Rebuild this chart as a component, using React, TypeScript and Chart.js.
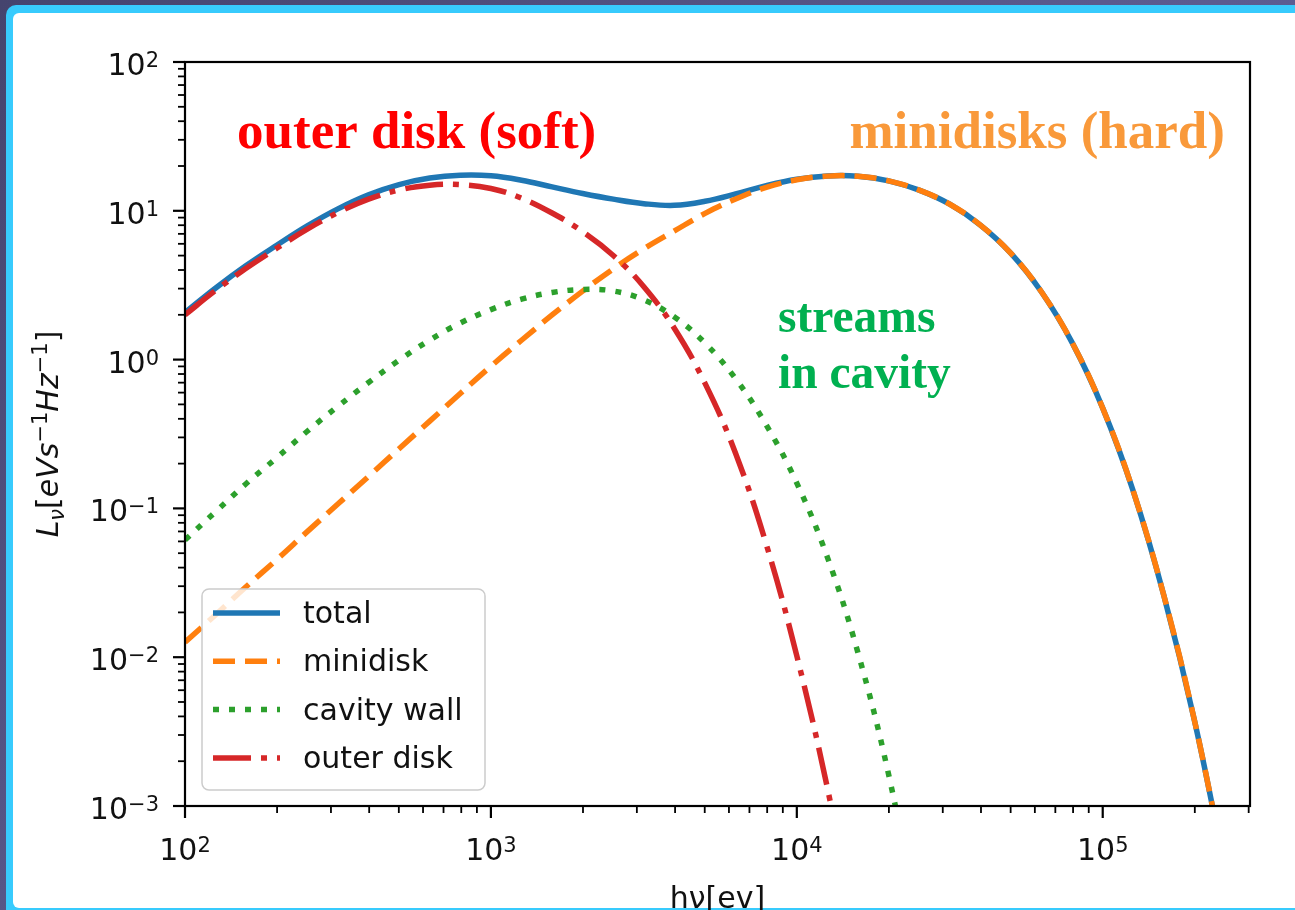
import React, { useEffect, useRef } from "react";
import { Chart, registerables } from "chart.js";
Chart.register(...registerables);

// ---- data ----
const photonEnergyEv = [
  100, 126, 158, 200, 251, 316, 398, 501, 631, 794,
  1000, 1259, 1585, 1995, 2512, 3162, 3981, 5012, 6310, 7943,
  10000, 12589, 15849, 19953, 25119, 31623, 39811, 50119, 63096, 79433,
  100000, 125893, 158489, 199526, 251189,
];
const totalLum = [
  2.07, 3.03, 4.27, 5.89, 7.92, 10.3, 12.8, 15.0, 16.6, 17.35,
  17.2, 16.06, 14.48, 13.08, 11.98, 11.17, 10.88, 11.58, 12.98, 14.77,
  16.31, 17.15, 17.06, 15.9, 13.77, 11.07, 8.017, 5.176, 2.844, 1.3,
  0.472, 0.13, 0.0259, 0.00375, 0.000375,
];
const minidiskLum = [
  0.0126, 0.0193, 0.0296, 0.0455, 0.0698, 0.107, 0.164, 0.252, 0.386, 0.592,
  0.902, 1.349, 1.995, 2.884, 4.074, 5.559, 7.328, 9.6, 12.0, 14.35,
  16.15, 17.1, 17.05, 15.9, 13.77, 11.07, 8.017, 5.176, 2.844, 1.3,
  0.472, 0.13, 0.0259, 0.00375, 0.000375,
];
const cavityWallLum = [
  0.0614, 0.0951, 0.146, 0.22, 0.33, 0.485, 0.701, 0.991, 1.352, 1.762,
  2.168, 2.547, 2.825, 2.958, 2.891, 2.518, 1.932, 1.291, 0.743, 0.364,
  0.148, 0.0469, 0.0107, 0.00163, 0.000151, null, null, null, null, null,
  null, null, null, null, null,
];
const outerDiskLum = [
  2.0, 2.92, 4.09, 5.62, 7.52, 9.73, 11.97, 13.8, 14.86, 15.0,
  14.13, 12.16, 9.66, 7.24, 5.01, 3.09, 1.62, 0.692, 0.234, 0.0575,
  0.0102, 0.00132, 0.000117, null, null, null, null, null, null, null,
  null, null, null, null, null,
];
const seriesLabels = ["total", "minidisk", "cavity wall", "outer disk"];
const xDecadeExponents = [2, 3, 4, 5];
const yDecadeExponents = [-3, -2, -1, 0, 1, 2];
const minorMultipliers = [2, 3, 4, 5, 6, 7, 8, 9];

const X_MIN = 100;
const X_MAX = 3.03e5;
const Y_MIN = 1e-3;
const Y_MAX = 100;

// ---- styles ----
const SANS = '"DejaVu Sans", sans-serif';
const SERIF = '"Liberation Serif", "Times New Roman", serif';
const TICK_FONT = 30;
const LEGEND_FONT = 30;
const LINE_W = 5.5;

const seriesStyles = [
  { color: "#1f77b4", dash: [] as number[], order: 3 },
  { color: "#ff7f0e", dash: [22, 10], order: 2 },
  { color: "#2ca02c", dash: [6, 10], order: 1 },
  { color: "#d62728", dash: [38, 10, 6, 10], order: 0 },
];
const seriesValues = [totalLum, minidiskLum, cavityWallLum, outerDiskLum];

type Part = { t: string; size: number; italic?: boolean; dy?: number; family?: string; bold?: boolean };

function setFont(ctx: CanvasRenderingContext2D, p: Part) {
  ctx.font = `${p.italic ? "italic " : ""}${p.bold ? "bold " : ""}${p.size}px ${p.family || SANS}`;
}
function drawRich(ctx: CanvasRenderingContext2D, parts: Part[], x: number, y: number, align: "left" | "center" | "right") {
  const widths = parts.map((p) => {
    setFont(ctx, p);
    return ctx.measureText(p.t).width;
  });
  const total = widths.reduce((a, b) => a + b, 0);
  let cx = align === "left" ? x : align === "center" ? x - total / 2 : x - total;
  ctx.textAlign = "left";
  ctx.textBaseline = "alphabetic";
  parts.forEach((p, i) => {
    setFont(ctx, p);
    ctx.fillText(p.t, cx, y + (p.dy || 0));
    cx += widths[i];
  });
}
function powerLabel(exp: number): Part[] {
  return [
    { t: "10", size: TICK_FONT },
    { t: String(exp).replace("-", "\u2212"), size: Math.round(TICK_FONT * 0.7), dy: -TICK_FONT * 0.27 },
  ];
}

const decorPlugin = {
  id: "decor",
  afterDatasetsDraw(chart: any) {
    const { ctx, chartArea: a } = chart;
    const xs = chart.scales.x;
    const ys = chart.scales.y;
    ctx.save();
    ctx.strokeStyle = "#000";
    ctx.fillStyle = "#111";
    ctx.setLineDash([]);

    // x ticks
    xDecadeExponents.forEach((e) => {
      [1, ...minorMultipliers].forEach((m) => {
        const v = m * Math.pow(10, e);
        if (v < X_MIN - 1e-9 || v > X_MAX) return;
        const px = xs.getPixelForValue(v);
        ctx.lineWidth = m === 1 ? 2.2 : 1.8;
        ctx.beginPath();
        ctx.moveTo(px, a.bottom);
        ctx.lineTo(px, a.bottom + (m === 1 ? 12 : 7));
        ctx.stroke();
      });
    });
    // y ticks
    yDecadeExponents.forEach((e) => {
      [1, ...minorMultipliers].forEach((m) => {
        const v = m * Math.pow(10, e);
        if (v < Y_MIN * 0.999 || v > Y_MAX * 1.001) return;
        const py = ys.getPixelForValue(v);
        ctx.lineWidth = m === 1 ? 2.2 : 1.8;
        ctx.beginPath();
        ctx.moveTo(a.left, py);
        ctx.lineTo(a.left - (m === 1 ? 12 : 7), py);
        ctx.stroke();
      });
    });
    // frame
    ctx.lineWidth = 2.2;
    ctx.strokeRect(a.left, a.top, a.right - a.left, a.bottom - a.top);

    // tick labels
    xDecadeExponents.forEach((e) => {
      const px = xs.getPixelForValue(Math.pow(10, e));
      drawRich(ctx, powerLabel(e), px, a.bottom + 54, "center");
    });
    yDecadeExponents.forEach((e) => {
      const py = ys.getPixelForValue(Math.pow(10, e));
      drawRich(ctx, powerLabel(e), a.left - 26, py + 13, "right");
    });

    // axis titles
    drawRich(ctx, [{ t: "h\u03bd[ev]", size: 30 }], (a.left + a.right) / 2, 908, "center");
    ctx.save();
    ctx.translate(58, (a.top + a.bottom) / 2);
    ctx.rotate(-Math.PI / 2);
    drawRich(
      ctx,
      [
        { t: "L", size: 30, italic: true },
        { t: "\u03bd", size: 21, italic: true, dy: 6 },
        { t: "[", size: 30 },
        { t: "eVs", size: 30, italic: true },
        { t: "\u22121", size: 21, dy: -11 },
        { t: "Hz", size: 30, italic: true },
        { t: "\u22121", size: 21, dy: -11 },
        { t: "]", size: 30 },
      ],
      0,
      0,
      "center"
    );
    ctx.restore();

    // legend
    const lx = 202, ly = 589, lw = 283, lh = 201;
    ctx.beginPath();
    ctx.roundRect(lx, ly, lw, lh, 7);
    ctx.fillStyle = "rgba(255,255,255,0.8)";
    ctx.fill();
    ctx.lineWidth = 1.5;
    ctx.strokeStyle = "#cccccc";
    ctx.stroke();
    seriesLabels.forEach((lab, i) => {
      const ry = 613 + i * 48.3;
      const st = seriesStyles[i];
      ctx.strokeStyle = st.color;
      ctx.lineWidth = LINE_W;
      ctx.lineCap = "butt";
      ctx.setLineDash(st.dash);
      ctx.beginPath();
      ctx.moveTo(213, ry);
      ctx.lineTo(280, ry);
      ctx.stroke();
      ctx.setLineDash([]);
      ctx.fillStyle = "#111";
      drawRich(ctx, [{ t: lab, size: LEGEND_FONT }], 303, ry + 10, "left");
    });

    // annotations
    ctx.fillStyle = "#ff0000";
    drawRich(ctx, [{ t: "outer disk (soft)", size: 53, bold: true, family: SERIF }], 237, 148, "left");
    ctx.fillStyle = "#f9993a";
    drawRich(ctx, [{ t: "minidisks (hard)", size: 53, bold: true, family: SERIF }], 1225, 148, "right");
    ctx.fillStyle = "#00b050";
    drawRich(ctx, [{ t: "streams", size: 47.5, bold: true, family: SERIF }], 778, 332, "left");
    drawRich(ctx, [{ t: "in cavity", size: 47.5, bold: true, family: SERIF }], 778, 388, "left");
    ctx.restore();
  },
};

export default function App() {
  const ref = useRef<HTMLCanvasElement>(null);
  useEffect(() => {
    const canvas = ref.current;
    if (!canvas) return;
    const datasets = seriesLabels.map((label, i) => ({
      label,
      data: photonEnergyEv
        .map((x, k) => ({ x, y: seriesValues[i][k] }))
        .filter((p) => p.y !== null && p.y !== undefined),
      borderColor: seriesStyles[i].color,
      backgroundColor: seriesStyles[i].color,
      borderDash: seriesStyles[i].dash,
      borderWidth: LINE_W,
      borderCapStyle: "butt" as const,
      order: seriesStyles[i].order,
      pointRadius: 0,
      tension: 0.4,
      fill: false,
      clip: 0,
    }));
    const chart = new Chart(canvas, {
      type: "line",
      data: { datasets },
      options: {
        responsive: false,
        animation: false,
        devicePixelRatio: 1,
        layout: { padding: { left: 185, top: 62, right: 1295 - 1250, bottom: 910 - 806 } },
        plugins: { legend: { display: false }, tooltip: { enabled: false } },
        scales: {
          x: { type: "logarithmic", min: X_MIN, max: X_MAX, display: false },
          y: { type: "logarithmic", min: Y_MIN, max: Y_MAX, display: false },
        },
      },
      plugins: [decorPlugin],
    } as any);
    return () => chart.destroy();
  }, []);

  return (
    <div
      style={{
        position: "fixed",
        left: 0,
        top: 0,
        width: 1295,
        height: 910,
        overflow: "hidden",
        background: "linear-gradient(135deg, #45446e 0%, #5a5a8e 50%, #6464a0 100%)",
      }}
    >
      <div style={{ position: "absolute", left: 6, top: 5, width: 1400, height: 1000, background: "#38cbfd", borderRadius: 10 }} />
      <div style={{ position: "absolute", left: 13, top: 13, width: 1400, height: 895, background: "#ffffff", borderRadius: 6 }} />
      <canvas ref={ref} width={1295} height={910} style={{ position: "absolute", left: 0, top: 0, width: 1295, height: 910 }} />
    </div>
  );
}
